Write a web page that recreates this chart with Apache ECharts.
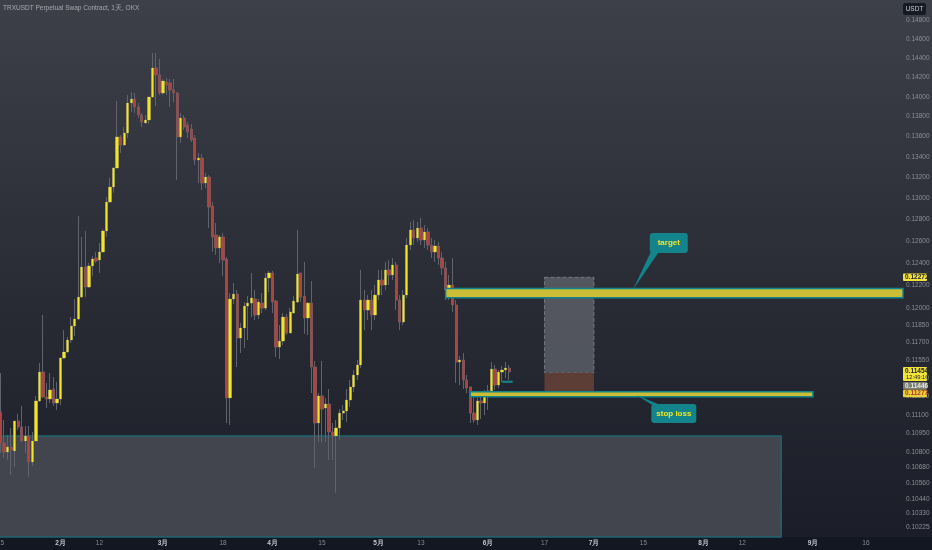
<!DOCTYPE html>
<html><head><meta charset="utf-8">
<script src="https://cdn.jsdelivr.net/npm/echarts@6/dist/echarts.min.js"></script>
<style>html,body{margin:0;padding:0;background:#1c1f29;overflow:hidden}#c{width:932px;height:550px}</style>
</head><body><div id="c"></div>
<script>
// ---- categories (daily, 2024) ----
const startDate = '2024-01-15';
const dayCount = 256;
const xTickDates = ['2024-01-15','2024-02-01','2024-02-12','2024-03-01','2024-03-18','2024-04-01','2024-04-15','2024-05-01','2024-05-13','2024-06-01','2024-06-17','2024-07-01','2024-07-15','2024-08-01','2024-08-12','2024-09-01','2024-09-16'];
const yTickValues = [0.148,0.146,0.144,0.142,0.140,0.138,0.136,0.134,0.132,0.130,0.128,0.126,0.124,0.122,0.120,0.1185,0.117,0.1155,0.114,0.1125,0.111,0.1095,0.108,0.1068,0.1056,0.1044,0.1033,0.10225];

// ---- candle values ----
const open = [
0.11123,0.10874,0.10803,0.10842,0.10811,0.11050,0.11002,0.10890,0.10930,0.10724,
0.10890,0.11213,0.11452,0.11246,0.11229,0.11311,0.11196,0.11229,0.11570,0.11621,
0.11723,0.11843,0.11904,0.12096,0.12365,0.12185,0.12374,0.12446,0.12428,0.12501,
0.12694,0.12965,0.13108,0.13291,0.13596,0.13516,0.13635,0.13937,0.13977,0.13897,
0.13815,0.13735,0.13765,0.13998,0.14298,0.14225,0.14039,0.14152,0.14142,0.14070,
0.14039,0.13596,0.13785,0.13715,0.13675,0.13586,0.13369,0.13388,0.13146,0.13204,
0.12927,0.12657,0.12538,0.12639,0.12437,0.11238,0.12079,0.12123,0.11740,0.11826,
0.12017,0.12043,0.12079,0.11939,0.12043,0.11999,0.12266,0.12311,0.12061,0.11663,
0.11714,0.11921,0.11783,0.11956,0.12052,0.12311,0.12105,0.11913,0.12043,0.11494,
0.11034,0.11254,0.11155,0.11188,0.10962,0.10930,0.10994,0.11114,0.11131,0.11221,
0.11328,0.11427,0.11511,0.12070,0.11982,0.12070,0.11939,0.12114,0.12248,0.12203,
0.12338,0.12293,0.12383,0.12070,0.11878,0.12114,0.12565,0.12703,0.12629,0.12721,
0.12611,0.12685,0.12565,0.12501,0.12556,0.12446,0.12356,0.12159,0.12203,0.12026,
0.11536,0.11553,0.11386,0.11328,0.11114,0.11058,0.11213,0.11196,0.11262,0.11295,
0.11477,0.11344,0.11452,0.11469,0.11486];
const close = [
0.10874,0.10803,0.10842,0.10819,0.11050,0.11002,0.10890,0.10930,0.10724,0.10890,
0.11213,0.11452,0.11246,0.11229,0.11303,0.11196,0.11229,0.11570,0.11621,0.11723,
0.11843,0.11904,0.12096,0.12365,0.12185,0.12374,0.12437,0.12419,0.12501,0.12694,
0.12965,0.13108,0.13291,0.13596,0.13516,0.13635,0.13937,0.13977,0.13897,0.13815,
0.13745,0.13765,0.13998,0.14298,0.14225,0.14039,0.14163,0.14121,0.14070,0.14039,
0.13596,0.13785,0.13695,0.13645,0.13566,0.13369,0.13388,0.13146,0.13204,0.12918,
0.12639,0.12538,0.12639,0.12428,0.11238,0.12079,0.12123,0.11740,0.11826,0.12017,
0.12043,0.12088,0.11939,0.12052,0.11999,0.12266,0.12311,0.12052,0.11663,0.11714,
0.11921,0.11783,0.11965,0.12061,0.12302,0.12096,0.11913,0.12043,0.11494,0.11034,
0.11254,0.11147,0.11188,0.10962,0.10930,0.10994,0.11114,0.11131,0.11221,0.11328,
0.11427,0.11511,0.12070,0.11982,0.12070,0.11939,0.12114,0.12248,0.12203,0.12338,
0.12293,0.12383,0.12070,0.11878,0.12114,0.12565,0.12703,0.12629,0.12721,0.12611,
0.12685,0.12565,0.12501,0.12556,0.12446,0.12356,0.12159,0.12203,0.12026,0.11536,
0.11553,0.11386,0.11319,0.11114,0.11058,0.11213,0.11196,0.11262,0.11295,0.11477,
0.11344,0.11452,0.11469,0.11486,0.11454];
const high = [
0.11444,0.11058,0.10938,0.10994,0.11050,0.11106,0.11172,0.11010,0.11010,0.10962,
0.11254,0.11528,0.11939,0.11361,0.11444,0.11411,0.11369,0.11570,0.11809,0.11749,
0.11921,0.12079,0.12833,0.12639,0.12694,0.12401,0.12464,0.12501,0.12583,0.12712,
0.13013,0.13194,0.13301,0.13957,0.13615,0.13695,0.14019,0.14049,0.14039,0.13937,
0.13836,0.13815,0.13998,0.14455,0.14455,0.14392,0.14184,0.14194,0.14184,0.14184,
0.14049,0.13836,0.13815,0.13745,0.13725,0.13615,0.13438,0.13428,0.13243,0.13223,
0.12965,0.12768,0.12657,0.12675,0.12455,0.12132,0.12221,0.12159,0.11869,0.12052,
0.12105,0.12311,0.12159,0.12079,0.12132,0.12311,0.12329,0.12329,0.12070,0.11852,
0.11956,0.11947,0.11999,0.12105,0.12703,0.12311,0.12410,0.12052,0.12239,0.11545,
0.11278,0.11545,0.11238,0.11311,0.11034,0.11058,0.11147,0.11180,0.11311,0.11386,
0.11469,0.11553,0.12338,0.12159,0.12114,0.12159,0.12203,0.12338,0.12338,0.12410,
0.12428,0.12446,0.12410,0.12114,0.12159,0.12629,0.12777,0.12796,0.12777,0.12815,
0.12749,0.12721,0.12629,0.12611,0.12593,0.12501,0.12410,0.12293,0.12446,0.12070,
0.11587,0.11612,0.11427,0.11328,0.11262,0.11238,0.11254,0.11303,0.11344,0.11536,
0.11511,0.11469,0.11503,0.11536,0.11511];
const low = [
0.10795,0.10756,0.10740,0.10623,0.10685,0.10978,0.10882,0.10795,0.10607,0.10693,
0.10890,0.11205,0.11238,0.11155,0.11196,0.11172,0.11139,0.11180,0.11561,0.11612,
0.11697,0.11757,0.11895,0.12096,0.12096,0.12176,0.12284,0.12401,0.12311,0.12492,
0.12639,0.12956,0.13051,0.13281,0.13438,0.13506,0.13586,0.13846,0.13836,0.13785,
0.13695,0.13735,0.13725,0.13988,0.13907,0.14019,0.14019,0.14019,0.13897,0.13947,
0.13175,0.13536,0.13665,0.13586,0.13546,0.13320,0.13146,0.13079,0.13098,0.12721,
0.12501,0.12473,0.12401,0.12284,0.11034,0.11018,0.12035,0.11494,0.11612,0.11655,
0.11723,0.11921,0.11895,0.11904,0.11956,0.11982,0.12141,0.11956,0.11578,0.11561,
0.11680,0.11766,0.11783,0.11956,0.12043,0.12052,0.11775,0.11766,0.11278,0.10678,
0.10882,0.10882,0.10882,0.10740,0.10740,0.10485,0.10898,0.11058,0.11042,0.11164,
0.11286,0.11386,0.11486,0.11809,0.11895,0.11809,0.11895,0.12070,0.12114,0.12159,
0.12203,0.12248,0.11982,0.11809,0.11852,0.12088,0.12519,0.12565,0.12593,0.12565,
0.12538,0.12519,0.12446,0.12410,0.12383,0.12293,0.12070,0.12070,0.11965,0.11361,
0.11344,0.11311,0.11278,0.11034,0.11034,0.11018,0.11066,0.11098,0.11139,0.11262,
0.11303,0.11319,0.11369,0.11402,0.11386];

// ---- drawings ----
const rangeZone = { to: '2024-08-23', top: 0.10930 };
const targetZone = { from: '2024-05-20', hi: 0.12173, lo: 0.12090 };
const stopZone = { from: '2024-05-27', to: '2024-09-01', hi: 0.11289, lo: 0.11248 };
const markerZone = { from: '2024-06-05', to: '2024-06-08', hi: 0.11380, lo: 0.11362 };
const positionBox = { from: '2024-06-17', to: '2024-07-01', target: 0.12272, entry: 0.11446, stop: 0.11277 };
const callouts = [
  { text: 'target', date: '2024-07-12', price: 0.12159, dx: 17, dy: -57, w: 38, h: 20, up: true },
  { text: 'stop loss', date: '2024-07-13', price: 0.11262, dx: 15, dy: 9, w: 45, h: 19, up: false }
];
const priceBadges = [
  { price: 0.12272, text: '0.12272', bg: '#f2e33b', color: '#262626', shift: 0 },
  { price: 0.11454, text: '0.11454', sub: '12:49:16', bg: '#f2e33b', color: '#262626', shift: -1 },
  { price: 0.11446, text: '0.11446', bg: '#7b7e74', color: '#e8e8e8', shift: 13 },
  { price: 0.11277, text: '0.11277', bg: '#e8d23a', color: '#b1372d', shift: 0.5 }
];
const titleText = 'TRXUSDT Perpetual Swap Contract, 1天, OKX';
const unitText = 'USDT';

// build categories
const categories = [];
const t0 = Date.parse(startDate + 'T00:00:00Z');
for (let k = 0; k < dayCount; k++) categories.push(new Date(t0 + k * 86400000).toISOString().slice(0, 10));

const ohlc = open.map((o, k) => [o, close[k], low[k], high[k]]);
const bodies = open.map((o, k) => [o, close[k], Math.min(o, close[k]), Math.max(o, close[k])]);

const chart = echarts.init(document.getElementById('c'));
const FONT = 'Liberation Sans';
const UP = '#f3e523', DOWN = '#aa4541', WICK = '#60636b', TEAL = '#13838c';

chart.setOption({
  animation: false,
  backgroundColor: {
    type: 'linear', x: 0, y: 0, x2: 0, y2: 1,
    colorStops: [
      { offset: 0, color: '#3d4049' },
      { offset: 0.5, color: '#2a2d36' },
      { offset: 0.976, color: '#1b1e28' },
      { offset: 0.977, color: '#131722' },
      { offset: 1, color: '#131722' }
    ]
  },
  grid: { left: -1.2, right: 29, top: 0, bottom: 13, containLabel: false, outerBoundsMode: 'none' },
  xAxis: {
    type: 'category', data: categories, boundaryGap: true,
    axisLine: { show: false }, axisTick: { show: false }, splitLine: { show: false },
    axisLabel: {
      margin: 3, fontSize: 6.5, fontFamily: FONT, color: '#878a92', hideOverlap: false,
      interval: (idx, val) => xTickDates.indexOf(val) >= 0,
      formatter: (val) => {
        const d = +val.slice(8, 10), m = +val.slice(5, 7);
        return d === 1 ? '{m|' + m + '月}' : String(d);
      },
      rich: { m: { color: '#c5c7cd', fontWeight: 'bold', fontSize: 6.5, fontFamily: FONT } }
    }
  },
  yAxis: {
    type: 'log', logBase: 10, min: 0.10153, max: 0.15025, position: 'right',
    axisLine: { show: false }, axisTick: { show: false }, splitLine: { show: false },
    axisLabel: {
      customValues: yTickValues, margin: 3, fontSize: 6.5, fontFamily: FONT, color: '#8b8e96',
      formatter: (v) => Number(v).toFixed(5)
    }
  },
  series: [
    {
      type: 'candlestick', name: 'wick', data: ohlc, barWidth: 2.8, z: 2,
      itemStyle: { color: WICK, color0: WICK, borderColor: WICK, borderColor0: WICK, borderWidth: 1 },
      markArea: {
        silent: true, z: 1,
        itemStyle: { color: '#42454e', borderColor: '#1c6572', borderWidth: 1.5 },
        data: [[{ name: '' }, { xAxis: rangeZone.to, yAxis: rangeZone.top }]]
      }
    },
    {
      type: 'candlestick', name: 'body', data: bodies, barWidth: 2.8, z: 3,
      itemStyle: { color: UP, color0: DOWN, borderColor: UP, borderColor0: DOWN, borderWidth: 0 }
    },
    {
      type: 'line', name: 'position', data: [], z: 4,
      markArea: {
        silent: true, z: 4,
        data: [
          [{ xAxis: positionBox.from, yAxis: positionBox.target, itemStyle: { color: 'rgba(112,115,124,0.6)', borderColor: 'rgba(150,152,158,0.6)', borderWidth: 1, borderType: 'dashed' } },
           { xAxis: positionBox.to, yAxis: positionBox.entry }],
          [{ xAxis: positionBox.from, yAxis: positionBox.entry, itemStyle: { color: '#5d3e37', borderWidth: 0 } },
           { xAxis: positionBox.to, yAxis: positionBox.stop }]
        ]
      }
    },
    {
      type: 'line', name: 'zones', data: [], z: 6,
      markArea: {
        silent: true, z: 6,
        itemStyle: { color: '#cbbd35', borderColor: TEAL, borderWidth: 1.5 },
        data: [
          [{ xAxis: targetZone.from, yAxis: targetZone.hi }, { yAxis: targetZone.lo }],
          [{ xAxis: stopZone.from, yAxis: stopZone.hi }, { xAxis: stopZone.to, yAxis: stopZone.lo }],
          [{ xAxis: markerZone.from, yAxis: markerZone.hi, itemStyle: { color: TEAL, borderWidth: 0 } }, { xAxis: markerZone.to, yAxis: markerZone.lo }]
        ]
      }
    }
  ]
});

// overlay graphics positioned through the chart's own scales
function drawOverlay() {
  const g = [];
  g.push({ type: 'text', left: 3, top: 5, z: 100, style: { text: titleText, fill: '#a6a8ae', font: '6.5px ' + FONT } });
  g.push({ type: 'rect', z: 100, shape: { x: 903, y: 3, width: 23, height: 12, r: 2 }, style: { fill: '#161a24' } });
  g.push({ type: 'text', z: 101, x: 914.5, y: 9, style: { text: unitText, fill: '#c9cbd1', font: '6.5px ' + FONT, align: 'center', verticalAlign: 'middle' } });

  priceBadges.forEach(b => {
    const y = chart.convertToPixel({ yAxisIndex: 0 }, b.price) + b.shift;
    const h = b.sub ? 14 : 7.5;
    const top = y - 3.8;
    g.push({ type: 'rect', z: 100, shape: { x: 903, y: top, width: 24, height: h, r: 1 }, style: { fill: b.bg } });
    g.push({ type: 'text', z: 101, x: 905, y: y, style: { text: b.text, fill: b.color, font: 'bold 6.5px ' + FONT, verticalAlign: 'middle' } });
    if (b.sub) g.push({ type: 'text', z: 101, x: 906, y: y + 6.8, style: { text: b.sub, fill: b.color, font: '5.8px ' + FONT, verticalAlign: 'middle' } });
  });

  callouts.forEach(c => {
    const tx = chart.convertToPixel({ xAxisIndex: 0 }, c.date);
    const ty = chart.convertToPixel({ yAxisIndex: 0 }, c.price);
    const bx = tx + c.dx, by = ty + c.dy;
    const baseY = c.up ? by + c.h - 1 : by + 1;
    g.push({ type: 'polygon', z: 110, shape: { points: [[bx + 1, baseY], [bx + 9, baseY], [tx, ty]] }, style: { fill: TEAL } });
    g.push({ type: 'rect', z: 110, shape: { x: bx, y: by, width: c.w, height: c.h, r: 3 }, style: { fill: TEAL } });
    g.push({ type: 'text', z: 111, x: bx + c.w / 2, y: by + c.h / 2, style: { text: c.text, fill: '#f3e523', font: 'bold 8px ' + FONT, align: 'center', verticalAlign: 'middle' } });
  });
  chart.setOption({ graphic: g });
}
drawOverlay();
</script></body></html>
